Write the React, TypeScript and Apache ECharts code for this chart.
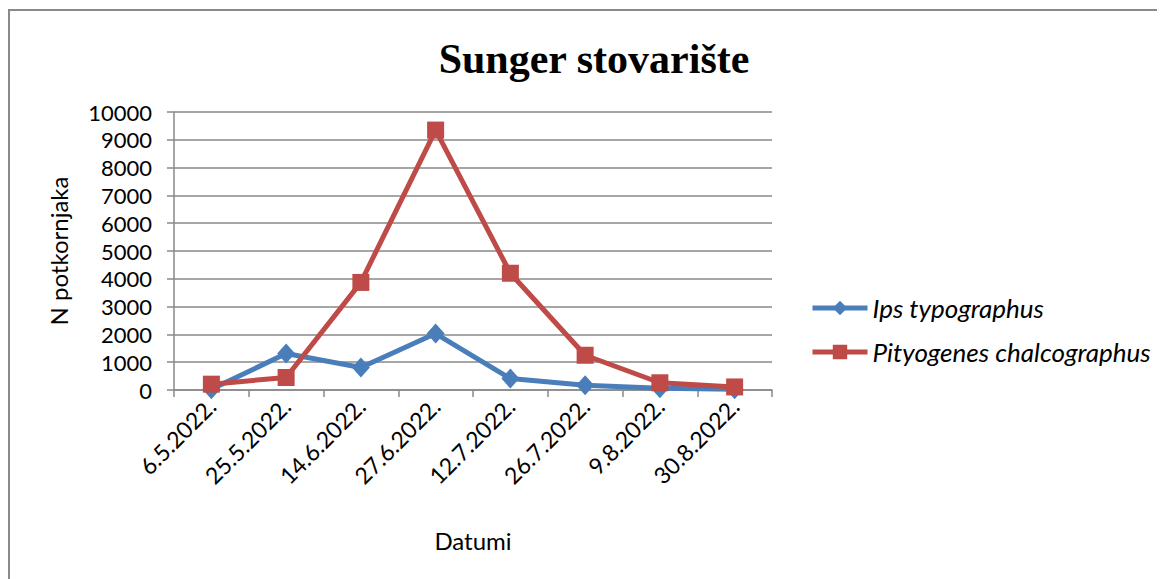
import React, { useEffect, useRef } from "react";
import * as echarts from "echarts";

const categories = ["6.5.2022.", "25.5.2022.", "14.6.2022.", "27.6.2022.", "12.7.2022.", "26.7.2022.", "9.8.2022.", "30.8.2022."];
const ipsTypographus = [30, 1310, 810, 2030, 410, 170, 60, 30];
const pityogenesChalcographus = [210, 450, 3870, 9350, 4200, 1250, 260, 110];
const seriesNames = ["Ips typographus", "Pityogenes chalcographus"];
const titleText = "Sunger stovarište";
const yAxisName = "N potkornjaka";
const xAxisName = "Datumi";

const FONT = "Lato";
const GRAY = "#898989";

export default function App() {
  const ref = useRef<HTMLDivElement>(null);
  useEffect(() => {
    if (!ref.current) return;
    const chart = echarts.init(ref.current, undefined, { renderer: "svg" });
    chart.setOption({
      animation: false,
      backgroundColor: "#fff",
      title: {
        text: titleText,
        left: 581,
        textAlign: "center",
        top: 25,
        textStyle: { fontFamily: "Liberation Serif", fontWeight: "bold", fontSize: 42, color: "#000" },
      },
      graphic: [
        {
          type: "rect",
          shape: { x: 1, y: 2, width: 1300, height: 700 },
          style: { fill: "none", stroke: GRAY, lineWidth: 2 },
          silent: true,
        },
      ],
      legend: {
        orient: "vertical",
        left: 797,
        top: 282,
        itemWidth: 55,
        itemHeight: 18,
        itemGap: 18,
        data: seriesNames,
        lineStyle: { width: 5 },
        textStyle: { fontFamily: FONT, fontStyle: "italic", fontSize: 26, color: "#000" },
      },
      grid: { left: 166, top: 104, width: 598, height: 278, containLabel: false },
      xAxis: {
        type: "category",
        data: categories,
        boundaryGap: true,
        name: xAxisName,
        nameLocation: "middle",
        nameGap: 138,
        nameTextStyle: { fontFamily: FONT, fontSize: 24, color: "#000" },
        axisLine: { lineStyle: { color: GRAY, width: 1.5 } },
        axisTick: { show: true, alignWithLabel: false, length: 7, lineStyle: { color: GRAY, width: 1.5 } },
        axisLabel: { rotate: 45, margin: 12, fontFamily: FONT, fontSize: 23, color: "#000", interval: 0 },
        splitLine: { show: false },
      },
      yAxis: {
        type: "value",
        min: 0,
        max: 10000,
        interval: 1000,
        name: yAxisName,
        nameLocation: "middle",
        nameGap: 104,
        nameTextStyle: { fontFamily: FONT, fontSize: 24, color: "#000" },
        axisLine: { show: true, lineStyle: { color: GRAY, width: 1.5 } },
        axisTick: { show: true, length: 7, lineStyle: { color: GRAY, width: 1.5 } },
        axisLabel: { margin: 22, fontFamily: FONT, fontSize: 22, color: "#000", formatter: (v: number) => String(v) },
        splitLine: { show: true, lineStyle: { color: GRAY, width: 1.5 } },
      },
      series: [
        {
          name: seriesNames[0],
          type: "line",
          data: ipsTypographus,
          symbol: "diamond",
          symbolSize: [18, 20],
          itemStyle: { color: "#4A7EBB" },
          lineStyle: { color: "#4A7EBB", width: 5 },
          z: 2,
        },
        {
          name: seriesNames[1],
          type: "line",
          data: pityogenesChalcographus,
          symbol: "rect",
          symbolSize: 17,
          itemStyle: { color: "#BE4B48" },
          lineStyle: { color: "#BE4B48", width: 5 },
          z: 3,
        },
      ],
    });
    return () => chart.dispose();
  }, []);
  return <div ref={ref} style={{ width: 1157, height: 571 }} />;
}
